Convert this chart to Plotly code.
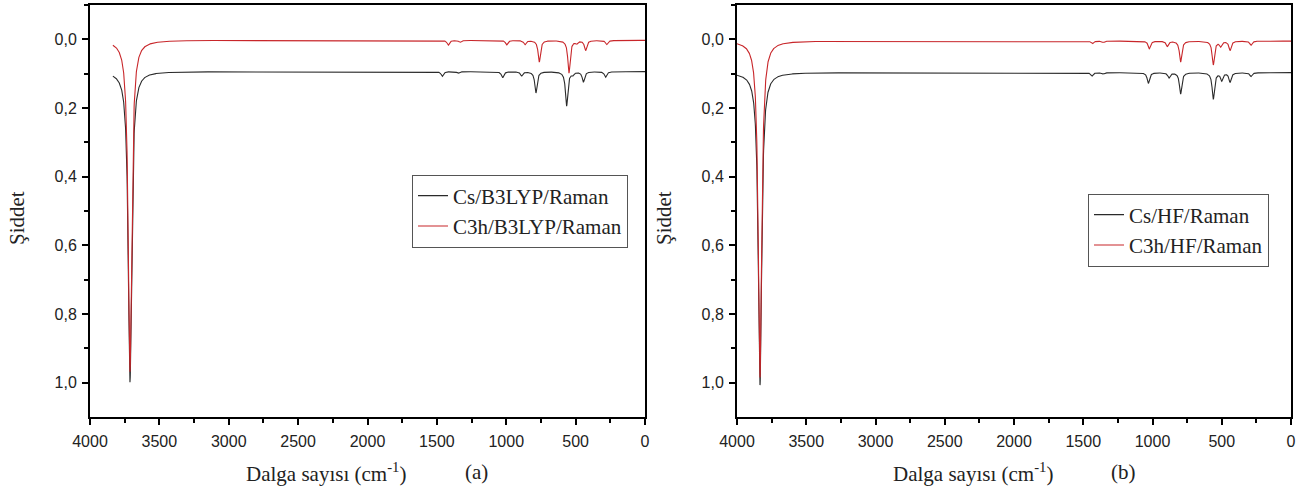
import numpy as np
import plotly.graph_objects as go

# ---- data: peak tables (wavenumber cm-1, intensity above baseline) ----
# Panel (a) B3LYP
a_cs_pos = [3712, 1461, 1347, 1026, 889, 786, 565, 522, 444, 284]
a_cs_amp = [0.905, 0.014, 0.005, 0.018, 0.012, 0.062, 0.100, 0.008, 0.030, 0.016]
a_cs_base = 0.094
a_c3h_pos = [3712, 1418, 1333, 997, 865, 762, 548, 493, 428, 276]
a_c3h_amp = [0.965, 0.014, 0.006, 0.013, 0.012, 0.063, 0.095, 0.008, 0.029, 0.012]
a_c3h_base = 0.003
a_range = [3835, 0]

# Panel (b) HF
b_cs_pos = [3834, 1437, 1355, 1030, 881, 797, 561, 500, 440, 289]
b_cs_amp = [0.910, 0.010, 0.004, 0.031, 0.015, 0.062, 0.077, 0.022, 0.027, 0.011]
b_cs_base = 0.097
b_c3h_pos = [3834, 1435, 1355, 1023, 893, 797, 561, 508, 440, 289]
b_c3h_amp = [0.980, 0.008, 0.004, 0.022, 0.015, 0.061, 0.069, 0.015, 0.027, 0.012]
b_c3h_base = 0.005
b_range = [4000, 0]

main_width = 15.0   # Lorentzian half width of the strong band
small_width = 10.0  # Lorentzian half width of the weak bands

x_ticks = [4000, 3500, 3000, 2500, 2000, 1500, 1000, 500, 0]
y_ticks = [0.0, 0.2, 0.4, 0.6, 0.8, 1.0]
y_tick_text = ["0,0", "0,2", "0,4", "0,6", "0,8", "1,0"]

legend_a = ["Cs/B3LYP/Raman", "C3h/B3LYP/Raman"]
legend_b = ["Cs/HF/Raman", "C3h/HF/Raman"]

BLACK = "#2a2a2a"
RED = "#c8262a"


def spectrum(rng, pos, amp, base):
    x = np.arange(rng[0], rng[1] - 1, -1.0)
    y = np.full_like(x, base)
    for i, (p, a) in enumerate(zip(pos, amp)):
        g = main_width if i == 0 else small_width
        y = y + a * g * g / ((x - p) ** 2 + g * g)
    return x, y


fig = go.Figure()
for (rng, pos, amp, base, name, col, xa, ya, lg) in [
    (a_range, a_cs_pos, a_cs_amp, a_cs_base, legend_a[0], BLACK, "x", "y", "legend"),
    (a_range, a_c3h_pos, a_c3h_amp, a_c3h_base, legend_a[1], RED, "x", "y", "legend"),
    (b_range, b_cs_pos, b_cs_amp, b_cs_base, legend_b[0], BLACK, "x2", "y2", "legend2"),
    (b_range, b_c3h_pos, b_c3h_amp, b_c3h_base, legend_b[1], RED, "x2", "y2", "legend2"),
]:
    x, y = spectrum(rng, pos, amp, base)
    fig.add_trace(go.Scatter(x=x, y=y, mode="lines", name=name,
                             line=dict(color=col, width=1.1),
                             xaxis=xa, yaxis=ya, legend=lg))

W, H = 1306, 490


def px(xp):
    return xp / W


def py(yp):
    return 1 - yp / H


ax_common = dict(showline=True, linecolor="black", linewidth=2, mirror=True,
                 showgrid=False, zeroline=False, ticks="outside", ticklen=6,
                 tickwidth=1.5, tickcolor="black", automargin=False,
                 tickfont=dict(family="Liberation Sans, Arial", size=16, color="#222"))
xa = dict(ax_common, range=[4000, 0], tickvals=x_ticks,
          minor=dict(ticks="outside", ticklen=4, tickwidth=1.5, tickcolor="black", dtick=250,
                     showgrid=False),
          ticklabelstandoff=3)
ya = dict(ax_common, range=[1.1, -0.1], tickvals=y_ticks, ticktext=y_tick_text,
          minor=dict(ticks="outside", ticklen=4, tickwidth=1.5, tickcolor="black",
                     tickvals=[-0.1, 0.1, 0.3, 0.5, 0.7, 0.9], showgrid=False),
          ticklabelstandoff=2)

ydom = [py(417), py(5)]
legend_font = dict(family="Liberation Serif, Times New Roman", size=21, color="#222")
fig.update_layout(
    width=W, height=H, margin=dict(l=0, r=0, t=0, b=0, autoexpand=False),
    paper_bgcolor="white", plot_bgcolor="white",
    xaxis=dict(xa, domain=[px(90), px(645)], anchor="y"),
    yaxis=dict(ya, domain=ydom, anchor="x"),
    xaxis2=dict(xa, domain=[px(737), px(1291)], anchor="y2"),
    yaxis2=dict(ya, domain=ydom, anchor="x2"),
    legend=dict(x=px(412), y=py(211), xanchor="left", yanchor="middle",
                bordercolor="#555", borderwidth=1, bgcolor="white",
                font=legend_font, tracegroupgap=0, itemwidth=30),
    legend2=dict(x=px(1088), y=py(230), xanchor="left", yanchor="middle",
                 bordercolor="#555", borderwidth=1, bgcolor="white",
                 font=legend_font, tracegroupgap=0, itemwidth=30),
    showlegend=True,
)

serif = dict(family="Liberation Serif, Times New Roman", size=21, color="#222")
ann = []
for xc, yc, txt in [(326, 472, "Dalga sayısı (cm<sup>-1</sup>)"), (476, 472, "(a)"),
                    (973, 472, "Dalga sayısı (cm<sup>-1</sup>)"), (1123, 472, "(b)")]:
    ann.append(dict(x=px(xc), y=py(yc), xref="paper", yref="paper", text=txt,
                    showarrow=False, font=serif, xanchor="center", yanchor="middle"))
for xc in [17, 664]:
    ann.append(dict(x=px(xc), y=py(218), xref="paper", yref="paper", text="Şiddet",
                    showarrow=False, font=serif, textangle=-90,
                    xanchor="center", yanchor="middle"))
fig.update_layout(annotations=ann)

# remove the default page margin so the figure fills the window exactly
fig.write_html("out.html", config={"displayModeBar": False},
               post_script="document.body.style.margin='0';document.body.style.overflow='hidden';")
